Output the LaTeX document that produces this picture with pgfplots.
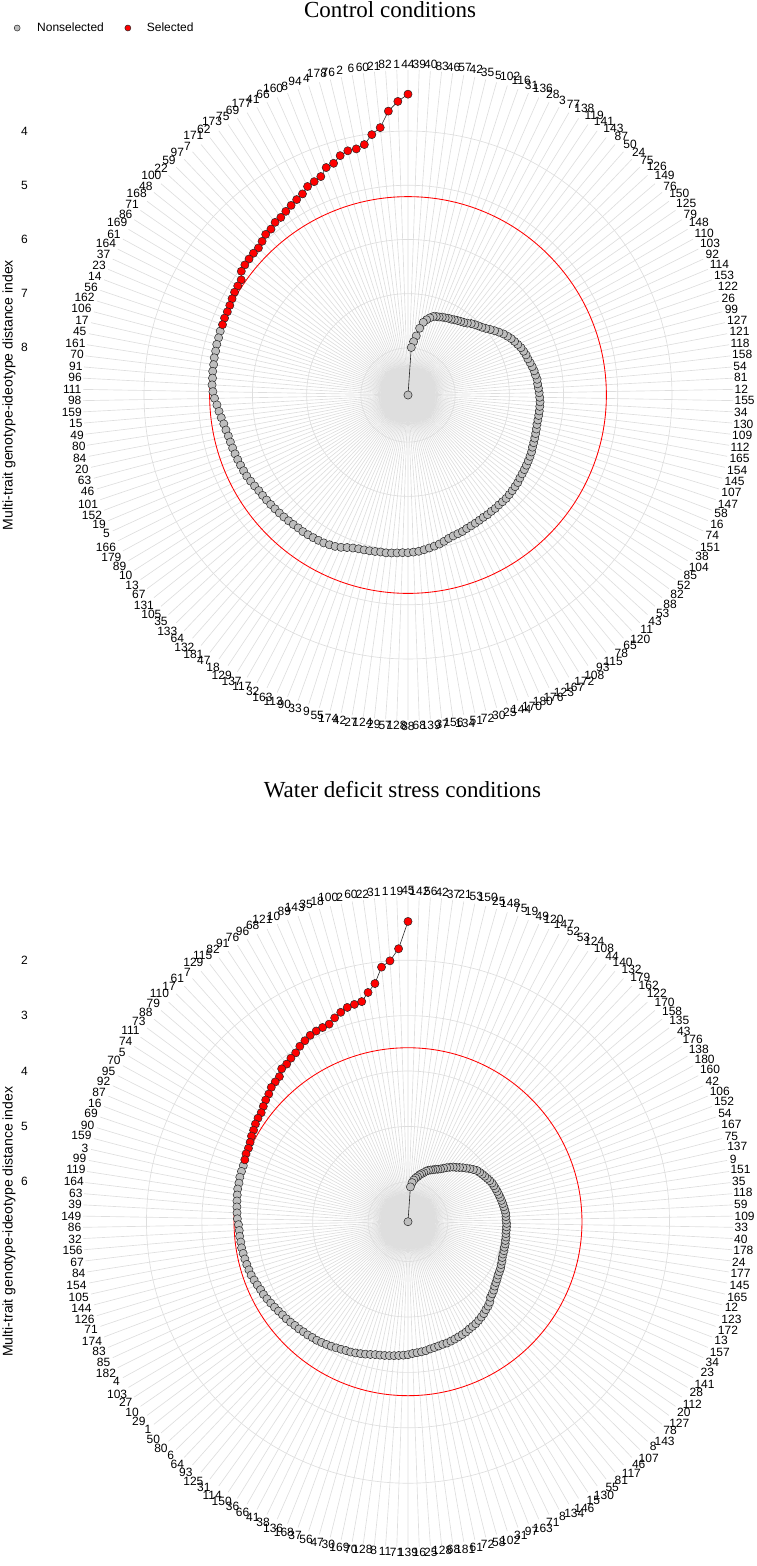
\documentclass[border=0pt]{standalone}
\usepackage{fontspec}
\setmainfont{Liberation Sans}
\newfontfamily\titlefont{Liberation Serif}
\usepackage{pgfplots}
\usepackage{pgfplotstable}
\pgfplotsset{compat=1.18}
\usepgfplotslibrary{polar}

\definecolor{gridgray}{RGB}{222,222,222}
\definecolor{ptgray}{RGB}{190,190,190}
\definecolor{ptred}{RGB}{255,0,0}

% MGIDI of each genotype, in rank order
\pgfplotstableread[row sep=\\]{v\\
3.32\\3.45\\3.62\\3.91\\4.02\\4.18\\4.23\\4.23\\4.28\\4.38\\
4.41\\4.53\\4.57\\4.60\\4.68\\4.72\\4.76\\4.80\\4.84\\4.85\\
4.90\\4.91\\4.96\\5.00\\5.00\\5.01\\5.02\\5.04\\5.13\\5.14\\
5.15\\5.17\\5.19\\5.20\\5.20\\5.21\\5.21\\5.22\\5.22\\5.23\\
5.23\\5.24\\5.24\\5.25\\5.25\\5.27\\5.30\\5.34\\5.37\\5.40\\
5.43\\5.45\\5.47\\5.48\\5.49\\5.50\\5.51\\5.52\\5.53\\5.54\\
5.56\\5.58\\5.60\\5.61\\5.62\\5.63\\5.64\\5.65\\5.66\\5.67\\
5.68\\5.69\\5.69\\5.70\\5.71\\5.72\\5.73\\5.75\\5.77\\5.80\\
5.84\\5.87\\5.89\\5.90\\5.91\\5.92\\5.93\\5.93\\5.94\\5.95\\
5.96\\5.96\\5.97\\5.98\\6.00\\6.02\\6.04\\6.06\\6.09\\6.12\\
6.14\\6.15\\6.16\\6.18\\6.19\\6.20\\6.21\\6.22\\6.22\\6.23\\
6.23\\6.24\\6.24\\6.24\\6.25\\6.26\\6.27\\6.28\\6.30\\6.31\\
6.32\\6.33\\6.34\\6.35\\6.36\\6.38\\6.39\\6.40\\6.41\\6.42\\
6.43\\6.43\\6.43\\6.43\\6.43\\6.43\\6.44\\6.45\\6.46\\6.47\\
6.47\\6.49\\6.50\\6.52\\6.54\\6.56\\6.57\\6.59\\6.61\\6.64\\
6.67\\6.70\\6.74\\6.78\\6.83\\6.88\\6.93\\6.98\\7.02\\7.05\\
7.08\\7.11\\7.15\\7.18\\7.20\\7.22\\7.24\\7.26\\7.27\\7.29\\
7.30\\7.32\\7.33\\7.35\\7.39\\7.44\\7.50\\7.62\\7.77\\7.88\\
7.99\\8.87\\
}\ctrl

\pgfplotstableread[row sep=\\]{v\\
1.30\\1.79\\2.00\\2.10\\2.38\\2.52\\2.66\\2.68\\2.70\\2.75\\
2.81\\2.88\\2.89\\2.90\\2.92\\2.96\\3.00\\3.06\\3.09\\3.13\\
3.14\\3.22\\3.24\\3.26\\3.31\\3.34\\3.38\\3.42\\3.43\\3.45\\
3.48\\3.50\\3.53\\3.55\\3.55\\3.57\\3.58\\3.58\\3.58\\3.59\\
3.59\\3.60\\3.61\\3.62\\3.63\\3.64\\3.66\\3.67\\3.67\\3.68\\
3.68\\3.69\\3.70\\3.71\\3.72\\3.73\\3.75\\3.77\\3.79\\3.80\\
3.82\\3.84\\3.86\\3.88\\3.90\\3.91\\3.93\\3.95\\3.96\\3.98\\
3.99\\4.01\\4.02\\4.04\\4.06\\4.08\\4.10\\4.12\\4.14\\4.15\\
4.17\\4.19\\4.21\\4.23\\4.25\\4.26\\4.27\\4.28\\4.29\\4.30\\
4.31\\4.32\\4.34\\4.35\\4.36\\4.37\\4.39\\4.40\\4.41\\4.42\\
4.42\\4.43\\4.44\\4.45\\4.46\\4.47\\4.49\\4.50\\4.51\\4.53\\
4.55\\4.57\\4.60\\4.62\\4.65\\4.70\\4.72\\4.74\\4.77\\4.79\\
4.81\\4.83\\4.84\\4.85\\4.87\\4.88\\4.90\\4.91\\4.91\\4.92\\
4.92\\4.93\\4.93\\4.94\\4.94\\4.94\\4.94\\4.95\\4.95\\4.95\\
4.96\\4.97\\4.98\\4.99\\5.00\\5.01\\5.02\\5.03\\5.04\\5.05\\
5.07\\5.09\\5.11\\5.13\\5.15\\5.17\\5.21\\5.25\\5.29\\5.33\\
5.37\\5.41\\5.44\\5.48\\5.52\\5.56\\5.60\\5.63\\5.65\\5.68\\
5.70\\5.72\\5.75\\5.79\\5.82\\5.85\\5.89\\5.92\\5.96\\6.01\\
6.09\\6.72\\
}\wds

\pgfplotsset{
  mgidi/.style={
    scale only axis, width=650pt, height=650pt, anchor=center,
    xmin=90, xmax=450, ymin=0,
    xtick={90,91.978022,...,448.1},
    xticklabel style={font=\fontsize{12}{12}\selectfont, inner sep=1.5pt},
    yticklabel=\empty,
    axis line style={draw=none},
    tick style={draw=none},
    xmajorgrids, ymajorgrids,
    major grid style={gridgray, line width=0.65pt},
    extra y tick labels={},
    extra y tick style={major grid style={ptred, line width=0.85pt}},
  },
  side/.style={
    scale only axis, width=756pt, height=650pt, anchor=center,
    xmin=-1, xmax=1,
    axis line style={draw=none}, tick style={draw=none},
    xtick=\empty,
    yticklabel style={font=\fontsize{12}{12}\selectfont, inner sep=2pt},
    every axis y label/.style={at={(axis description cs:-0.0278,0.5)},
      rotate=90, anchor=center, font=\fontsize{14}{14}\selectfont},
  },
  spiral/.style={no marks, black!85, line width=0.6pt},
  nonsel/.style={only marks, mark=*, mark size=4.1pt,
    mark options={fill=ptgray, draw=black!85, line width=0.5pt}},
  sel/.style={only marks, mark=*, mark size=4.1pt,
    mark options={fill=ptred, draw=black!85, line width=0.5pt}},
}

\begin{document}
\begin{tikzpicture}
\useasboundingbox (0pt,0pt) rectangle (757pt,-1566pt);

% ---------- control conditions ----------
\node[font=\titlefont\fontsize{23}{23}\selectfont, anchor=base] at (390pt,-17.5pt) {Control conditions};

\begin{polaraxis}[mgidi,
  at={(408pt,-395pt)},
  ymax=5.996,
  ytick={0.87,1.87,2.87,3.87,4.87},
  extra y ticks={3.66},
  xticklabels={44,1,82,21,60,6,2,76,178,4,
    94,8,160,66,41,177,69,75,173,62,
    171,7,97,59,22,100,48,168,71,86,
    169,61,164,37,23,14,56,162,106,17,
    45,161,70,91,96,111,98,159,15,49,
    80,84,20,63,46,101,152,19,5,166,
    179,89,10,13,67,131,105,35,133,64,
    132,181,47,18,129,137,117,32,163,113,
    90,33,9,55,174,42,27,124,29,57,
    128,88,68,139,37,156,134,51,72,30,
    25,144,170,180,176,123,167,172,108,93,
    115,78,65,120,11,43,53,88,82,52,
    85,104,38,151,74,16,58,147,107,145,
    154,165,112,109,130,34,155,12,81,54,
    158,118,121,127,99,26,122,153,114,92,
    103,110,148,79,125,150,76,149,126,75,
    24,50,87,143,141,119,138,77,3,28,
    136,31,116,102,5,35,42,57,46,83,
    40,39},
]
\addplot[spiral] table[x index=0, y index=0, x expr={90+\coordindex*1.978022}, y expr={8.87-\thisrow{v}}] {\ctrl};
\addplot[nonsel, skip coords between index={0}{36}] table[x index=0, y index=0, x expr={90+\coordindex*1.978022}, y expr={8.87-\thisrow{v}}] {\ctrl};
\addplot[sel, skip coords between index={36}{182}] table[x index=0, y index=0, x expr={90+\coordindex*1.978022}, y expr={8.87-\thisrow{v}}] {\ctrl};
\end{polaraxis}

\begin{axis}[side,
  at={(408pt,-395pt)},
  ymin=-5.996, ymax=5.996,
  ytick={0.87,1.87,2.87,3.87,4.87}, yticklabels={8,7,6,5,4},
  ylabel={Multi-trait genotype-ideotype distance index},
  legend columns=2,
  legend style={at={(axis description cs:-0.0212,1.0646)}, anchor=west,
    draw=none, fill=none, inner sep=0pt, font=\fontsize{12}{12}\selectfont,
    /tikz/column 1/.style={column sep=15pt},
    /tikz/column 2/.style={column sep=19pt},
    /tikz/column 3/.style={column sep=14pt}},
]
\addlegendimage{only marks, mark=*, mark size=3pt, mark options={fill=ptgray, draw=black!85, line width=0.5pt}}
\addlegendentry{Nonselected}
\addlegendimage{only marks, mark=*, mark size=3pt, mark options={fill=ptred, draw=black!85, line width=0.5pt}}
\addlegendentry{Selected}
\end{axis}

% ---------- water deficit stress conditions ----------
\node[font=\titlefont\fontsize{23}{23}\selectfont, anchor=base] at (402.5pt,-797.5pt) {Water deficit stress conditions};

\begin{polaraxis}[mgidi,
  at={(408pt,-1221.7pt)},
  ymax=5.866,
  ytick={0.72,1.72,2.72,3.72,4.72},
  extra y ticks={3.14},
  xticklabels={45,19,1,31,22,60,2,100,18,35,
    143,89,10,121,68,96,76,91,82,115,
    129,7,61,17,110,79,88,73,111,74,
    5,70,95,92,87,16,69,90,159,3,
    99,119,164,63,39,149,86,32,156,67,
    84,154,105,144,126,71,174,83,85,182,
    4,103,27,10,29,1,50,80,6,64,
    93,125,31,114,150,36,66,41,38,136,
    168,37,56,47,30,169,70,128,8,11,
    71,139,16,25,128,68,181,61,72,58,
    102,31,97,163,71,8,134,146,15,130,
    55,81,117,46,107,8,143,78,127,20,
    112,28,141,23,34,157,13,172,123,12,
    165,145,177,24,178,40,33,109,59,118,
    35,151,9,137,75,167,54,152,106,42,
    160,180,138,176,43,135,158,170,122,162,
    179,132,140,44,108,124,53,52,147,120,
    49,19,75,148,25,150,53,21,37,42,
    56,142},
]
\addplot[spiral] table[x index=0, y index=0, x expr={90+\coordindex*1.978022}, y expr={6.72-\thisrow{v}}] {\wds};
\addplot[nonsel, skip coords between index={0}{36}] table[x index=0, y index=0, x expr={90+\coordindex*1.978022}, y expr={6.72-\thisrow{v}}] {\wds};
\addplot[sel, skip coords between index={36}{182}] table[x index=0, y index=0, x expr={90+\coordindex*1.978022}, y expr={6.72-\thisrow{v}}] {\wds};
\end{polaraxis}

\begin{axis}[side,
  at={(408pt,-1221.7pt)},
  ymin=-5.866, ymax=5.866,
  ytick={0.72,1.72,2.72,3.72,4.72}, yticklabels={6,5,4,3,2},
  ylabel={Multi-trait genotype-ideotype distance index},
]
\end{axis}
\end{tikzpicture}
\end{document}
